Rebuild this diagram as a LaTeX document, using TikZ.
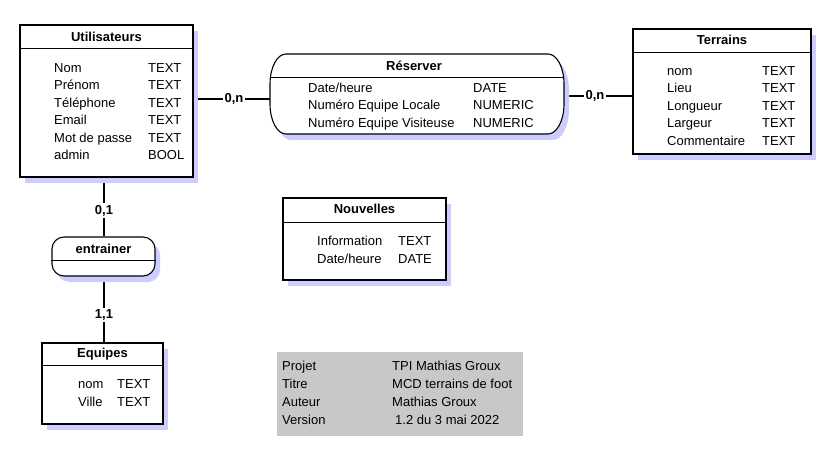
\documentclass[tikz,border=0pt]{standalone}
\usepackage{fontspec}
\setmainfont{Liberation Sans}
\usetikzlibrary{shadows}
\definecolor{shadowc}{HTML}{CCCCFF}
\definecolor{infog}{HTML}{C8C8C8}
\pgfdeclarelayer{bg}
\pgfsetlayers{bg,main}
\tikzset{
  x=1pt, y=-1pt,
  basefont/.style={font=\fontsize{13}{15}\selectfont},
  shadowed/.style={drop shadow={shadow xshift=5pt, shadow yshift=-6pt, fill=shadowc, opacity=1}},
  entity/.style={draw, line width=1.1pt, fill=white, inner sep=0, shadowed},
  assoc/.style={entity, rounded corners=#1},
  divider/.style={line width=1pt},
  txt/.style={basefont, anchor=base west, inner sep=0},
  ttl/.style={font=\fontsize{13}{15}\selectfont\bfseries, anchor=base, inner sep=0},
  link/.style={line width=1.2pt},
  card/.style={font=\fontsize{13}{15}\selectfont\bfseries, fill=white, inner sep=1.5pt},
}
\begin{document}
\begin{tikzpicture}
\useasboundingbox (0,0) rectangle (832,449);

% ---------- Utilisateurs
\node[entity, minimum width=173, minimum height=152] (util) at (106.5,101) {};
\draw[divider] (util.west |- 0,49) -- (util.east |- 0,49);
\node[ttl] (utilT) at (106.5,41.5) {Utilisateurs};
\foreach \n/\t [count=\i] in {Nom/TEXT, Prénom/TEXT, Téléphone/TEXT, Email/TEXT, Mot de passe/TEXT, admin/BOOL}{
  \node[txt] (utilN\i) at (54,{68+17.4*(\i-1)+4.5}) {\n};
  \node[txt] (utilY\i) at (148,{68+17.4*(\i-1)+4.5}) {\t};
}

% ---------- Réserver (elliptical sides)
\node[minimum width=294, minimum height=80, inner sep=0] (res) at (417,94) {};
\path[draw, line width=1.1pt, fill=white, shadowed]
  (286,54) -- (548,54) arc[start angle=-90, end angle=0, x radius=16, y radius=30]
  -- (564,104) arc[start angle=0, end angle=90, x radius=16, y radius=30]
  -- (286,134) arc[start angle=90, end angle=180, x radius=16, y radius=30]
  -- (270,84) arc[start angle=180, end angle=270, x radius=16, y radius=30] -- cycle;
\draw[divider] (res.west |- 0,78) -- (res.east |- 0,78);
\node[ttl] (resT) at (414,70.5) {Réserver};
\foreach \n/\t [count=\i] in {{Date/heure}/DATE, {Numéro Equipe Locale}/NUMERIC, {Numéro Equipe Visiteuse}/NUMERIC}{
  \node[txt] (resN\i) at (308,{88+17.5*(\i-1)+4.5}) {\n};
  \node[txt] (resY\i) at (473,{88+17.5*(\i-1)+4.5}) {\t};
}

% ---------- Terrains
\node[entity, minimum width=178, minimum height=125] (ter) at (722,91.5) {};
\draw[divider] (ter.west |- 0,53) -- (ter.east |- 0,53);
\node[ttl] (terT) at (722,44.5) {Terrains};
\foreach \n/\t [count=\i] in {nom/TEXT, Lieu/TEXT, Longueur/TEXT, Largeur/TEXT, Commentaire/TEXT}{
  \node[txt] (terN\i) at (667,{71+17.5*(\i-1)+4.5}) {\n};
  \node[txt] (terY\i) at (762,{71+17.5*(\i-1)+4.5}) {\t};
}

% ---------- entrainer
\node[assoc=12pt, minimum width=103, minimum height=39] (ent) at (103.5,256.5) {};
\draw[divider] (ent.west |- 0,260) -- (ent.east |- 0,260);
\node[ttl] (entT) at (103.5,253.5) {entrainer};

% ---------- Equipes
\node[entity, minimum width=121, minimum height=81] (equ) at (102.5,383.5) {};
\draw[divider] (equ.west |- 0,365) -- (equ.east |- 0,365);
\node[ttl] (equT) at (102.5,357.5) {Equipes};
\foreach \n/\t [count=\i] in {nom/TEXT, Ville/TEXT}{
  \node[txt] (equN\i) at (78,{384+18*(\i-1)+4.5}) {\n};
  \node[txt] (equY\i) at (117,{384+18*(\i-1)+4.5}) {\t};
}

% ---------- Nouvelles
\node[entity, minimum width=163, minimum height=82] (nou) at (364.5,239) {};
\draw[divider] (nou.west |- 0,222) -- (nou.east |- 0,222);
\node[ttl] (nouT) at (364.5,213.5) {Nouvelles};
\foreach \n/\t [count=\i] in {Information/TEXT, {Date/heure}/DATE}{
  \node[txt] (nouN\i) at (317,{241+17.5*(\i-1)+4.5}) {\n};
  \node[txt] (nouY\i) at (398,{241+17.5*(\i-1)+4.5}) {\t};
}

% ---------- Info block
\node[fill=infog, minimum width=246, minimum height=84, inner sep=0] (info) at (400,394) {};
\foreach \n/\t/\xx [count=\i] in {Projet/TPI Mathias Groux/392, Titre/MCD terrains de foot/392, Auteur/Mathias Groux/392, Version/1.2 du 3 mai 2022/395}{
  \node[txt] (infoN\i) at (282,{366+18*(\i-1)+4.5}) {\n};
  \node[txt] (infoV\i) at (\xx,{366+18*(\i-1)+4.5}) {\t};
}

% ---------- connectors
\begin{pgfonlayer}{bg}
\draw[link] (util.east |- 0,99) -- node[card, pos=0.53] (c1) {0,n} (res.west |- 0,99);
\draw[link] (res.east |- 0,96) -- node[card, pos=0.45] (c2) {0,n} (ter.west |- 0,96);
\draw[link] (util.south -| 104,0) -- node[card, pos=0.56] (c3) {0,1} (ent.north -| 104,0);
\draw[link] (ent.south -| 104,0) -- node[card, pos=0.58] (c4) {1,1} (equ.north -| 104,0);
\end{pgfonlayer}
\end{tikzpicture}
\end{document}
